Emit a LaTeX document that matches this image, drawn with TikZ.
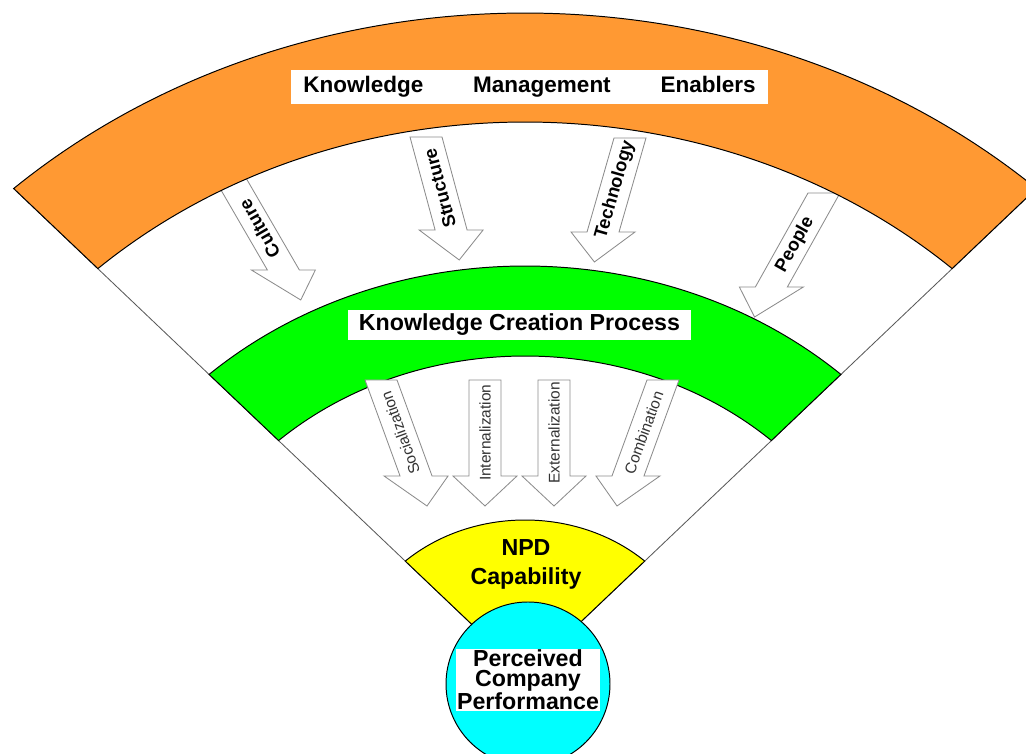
\documentclass[tikz,border=0pt]{standalone}
\usepackage{fontspec}
\setmainfont{Liberation Sans}

\newcommand{\kmarrow}[8]{%
  \begin{scope}[shift={(#2,#3)}, xslant=#4]
    \draw[arrowline] (-16,0) -- (-16,-#5) -- (-32,-#5) -- (0,-#5-30) -- (32,-#5) -- (16,-#5) -- (16,0) -- cycle;
    \node[#7, rotate=#6] (#1) at (0,-0.55*#5) {#8};
  \end{scope}}

\begin{document}
\begin{tikzpicture}[x=0.025cm, y=0.025cm,
    band/.style={draw=black, line width=0.7pt},
    edge/.style={draw=black!65, line width=0.6pt},
    arrowline/.style={draw=black!45, fill=white, line width=0.6pt},
    uptext/.style={font=\fontsize{13}{13}\selectfont\bfseries},
    lowtext/.style={font=\fontsize{11}{11}\selectfont, text=black!80},
    whitebox/.style={fill=white, inner ysep=0pt, font=\fontsize{16}{16}\selectfont\bfseries}]

    \def\sx{1.139}
    \def\al{132.7}
    \def\ar{47.3}
    \definecolor{band-orange}{RGB}{255,153,51}
    \definecolor{band-green}{RGB}{0,255,0}
    \definecolor{band-yellow}{RGB}{255,255,0}
    \definecolor{disc-cyan}{RGB}{0,255,255}

    \useasboundingbox (0,0) rectangle (1026,754);
    \clip (0,0) rectangle (1026,754);

    \begin{scope}[shift={(525,79)}, xscale=\sx]
    \path (0,0) coordinate (apex) (\al:662) coordinate (ol) (\ar:662) coordinate (or);
    \draw[edge] (ol) -- (apex) -- (or);
    \draw[band, fill=band-green] (\al:409) arc[start angle=\al, end angle=\ar, radius=409] -- (\ar:319) arc[start angle=\ar, end angle=\al, radius=319] -- cycle;
    \end{scope}

    \kmarrow{culture}{230}{576}{-0.58}{92}{120}{uptext}{Culture}
    \kmarrow{structure}{426}{617}{-0.27}{93}{105}{uptext}{Structure}
    \kmarrow{technology}{630}{616}{0.287}{94}{74}{uptext}{Technology}
    \kmarrow{people}{824}{561}{0.56}{94}{60.7}{uptext}{People}

    \begin{scope}[shift={(525,79)}, xscale=\sx]
    \draw[band, fill=band-orange] (\al:662) arc[start angle=\al, end angle=\ar, radius=662] -- (\ar:553) arc[start angle=\ar, end angle=\al, radius=553] -- cycle;
    \end{scope}

    \kmarrow{social}{381}{374}{-0.365}{96}{110}{lowtext}{Socialization}
    \kmarrow{internal}{485}{374}{0}{96}{90}{lowtext}{Internalization}
    \kmarrow{external}{554}{374}{0}{96}{90}{lowtext}{Externalization}
    \kmarrow{combine}{663}{374}{0.365}{96}{70}{lowtext}{Combination}

    \begin{scope}[shift={(525,79)}, xscale=\sx]
    \draw[band, fill=band-yellow] (apex) -- (\al:155) arc[start angle=\al, end angle=\ar, radius=155] -- cycle;
    \end{scope}

    \draw[band, fill=disc-cyan] (528,70) circle[radius=82];

    \node[whitebox, text width=11.3cm, inner xsep=8.5pt, minimum height=24pt] (kme) at (529.5,667) {Knowledge\hfill Management\hfill Enablers};
    \node[whitebox, inner xsep=8pt, minimum height=21pt, font=\fontsize{16.5}{16.5}\selectfont\bfseries] (kcp) at (519.5,429) {Knowledge Creation Process};
    \node[align=center, font=\fontsize{16.5}{20.6}\selectfont\bfseries] (npd) at (526,190) {NPD\\Capability};
    \node[whitebox, align=center, inner xsep=1pt, minimum height=44pt, font=\fontsize{16.5}{14.2}\selectfont\bfseries] (pcp) at (528,74) {Perceived\\Company\\Performance};

\end{tikzpicture}
\end{document}
